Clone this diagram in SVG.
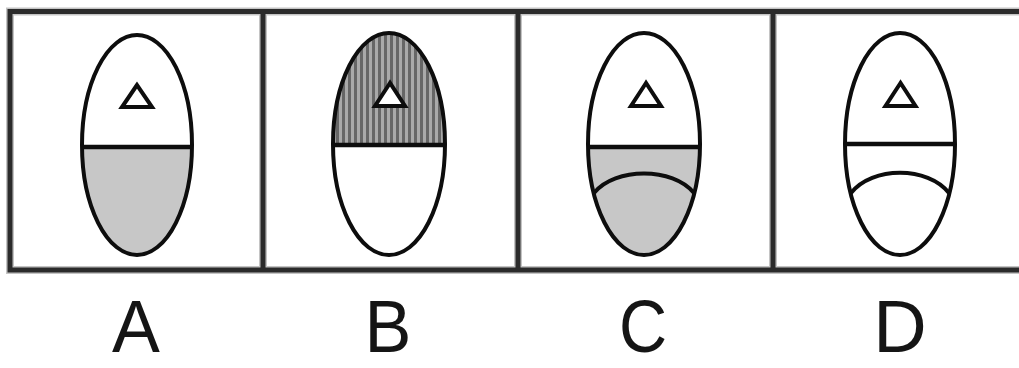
<svg xmlns="http://www.w3.org/2000/svg" width="1019" height="368" viewBox="0 0 1019 368">
<style>
.frame-halo{fill:none;stroke:#c4c4c4;stroke-width:8}
.frame{fill:none;stroke:#2b2b2b;stroke-width:5}
.egg{fill:none;stroke:#0d0d0d;stroke-width:4}
.bar{stroke:#0d0d0d;stroke-width:4.5}
.arc{fill:none;stroke:#0d0d0d;stroke-width:4}
.tri{fill:#fff;stroke:#0d0d0d;stroke-width:4;stroke-linejoin:miter}
.gray{fill:#c7c7c7}
.lbl{font-family:"Liberation Sans",Arial,sans-serif;font-size:74px;fill:#151515;text-anchor:middle}
</style>
<defs>
<pattern id="stripes" width="6" height="10" patternUnits="userSpaceOnUse">
<rect width="6" height="10" fill="#a9a9a9"/>
<rect width="3" height="10" fill="#666"/>
</pattern>
<clipPath id="cA"><ellipse cx="137" cy="145" rx="55" ry="110"/></clipPath>
<clipPath id="cB"><ellipse cx="389" cy="144" rx="56" ry="111"/></clipPath>
<clipPath id="cC"><ellipse cx="644" cy="144" rx="56" ry="111"/></clipPath>
</defs>
<rect width="1019" height="368" fill="#fff"/>
<g id="frame">
<rect class="frame-halo" x="10" y="11.5" width="1020" height="258.5"/>
<line class="frame-halo" x1="263" y1="11" x2="263" y2="270"/>
<line class="frame-halo" x1="518" y1="11" x2="518" y2="270"/>
<line class="frame-halo" x1="773" y1="11" x2="773" y2="270"/>
<rect class="frame" x="10" y="11.5" width="1020" height="258.5"/>
<line class="frame" x1="263" y1="11" x2="263" y2="270"/>
<line class="frame" x1="518" y1="11" x2="518" y2="270"/>
<line class="frame" x1="773" y1="11" x2="773" y2="270"/>
</g>
<g id="optionA">
<rect class="gray" x="80" y="147" width="115" height="115" clip-path="url(#cA)"/>
<ellipse class="egg" cx="137" cy="145" rx="55" ry="110"/>
<line class="bar" x1="82" y1="147" x2="192" y2="147"/>
<polygon class="tri" points="137,85 122,107 152,107"/>
</g>
<g id="optionB">
<rect fill="url(#stripes)" x="330" y="30" width="120" height="115" clip-path="url(#cB)"/>
<ellipse class="egg" cx="389" cy="144" rx="56" ry="111"/>
<line class="bar" x1="333" y1="145" x2="445" y2="145"/>
<polygon class="tri" points="390,83 375,106 405,106" />
</g>
<g id="optionC">
<rect class="gray" x="585" y="147" width="120" height="115" clip-path="url(#cC)"/>
<ellipse class="egg" cx="644" cy="144" rx="56" ry="111"/>
<line class="bar" x1="588" y1="147" x2="700" y2="147"/>
<path class="arc" d="M594 193 C615 167 673 167 694 193"/>
<polygon class="tri" points="646,83 631,106 661,106"/>
</g>
<g id="optionD">
<ellipse class="egg" cx="900" cy="144" rx="55" ry="111"/>
<line class="bar" x1="845" y1="144" x2="955" y2="144"/>
<path class="arc" d="M851 193 C872 166 928 166 949 193"/>
<polygon class="tri" points="900.5,83 885.5,106 915.5,106"/>
</g>
<g id="labels">
<text class="lbl" transform="translate(136,352) scale(0.97,1)">A</text>
<text class="lbl" transform="translate(388,352) scale(0.95,1)">B</text>
<text class="lbl" transform="translate(643,352) scale(0.9,1)">C</text>
<text class="lbl" transform="translate(900,352) scale(1,1)">D</text>
</g>
</svg>
